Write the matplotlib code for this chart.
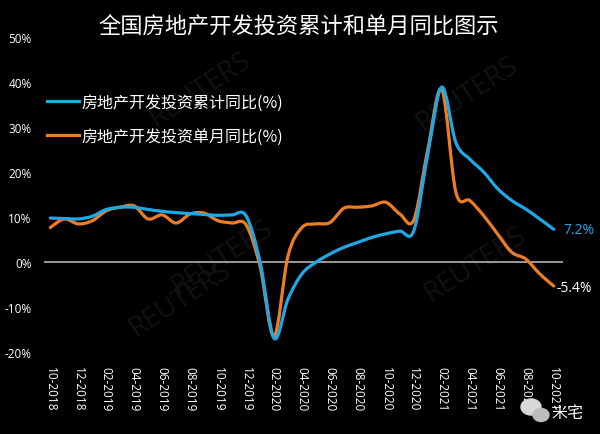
import numpy as np
import matplotlib.pyplot as plt
from matplotlib.path import Path
from matplotlib.patches import PathPatch, Ellipse
from matplotlib.lines import Line2D

# 全国房地产开发投资累计和单月同比, 10-2018 .. 10-2021 (monthly)
months = ["10-2018", "11-2018", "12-2018",
          "01-2019", "02-2019", "03-2019", "04-2019", "05-2019", "06-2019",
          "07-2019", "08-2019", "09-2019", "10-2019", "11-2019", "12-2019",
          "01-2020", "02-2020", "03-2020", "04-2020", "05-2020", "06-2020",
          "07-2020", "08-2020", "09-2020", "10-2020", "11-2020", "12-2020",
          "01-2021", "02-2021", "03-2021", "04-2021", "05-2021", "06-2021",
          "07-2021", "08-2021", "09-2021", "10-2021"]
cumulative = [9.7, 9.6, 9.5, 10.1, 11.6, 12.1, 12.1, 11.6, 11.2, 10.9, 10.7, 10.5,
              10.3, 10.4, 10.2, 0.0, -17.0, -8.3, -2.7, -0.1, 1.7, 3.2, 4.3, 5.4,
              6.2, 6.8, 6.9, 24.0, 38.8, 26.5, 22.8, 19.9, 16.2, 13.6, 11.7, 9.5, 7.2]
single = [7.6, 9.5, 8.4, 9.1, 11.3, 12.1, 12.4, 9.5, 10.4, 8.6, 10.6, 10.8,
          9.1, 8.6, 8.2, -1.0, -16.6, 1.3, 7.6, 8.4, 8.7, 11.9, 12.1, 12.4,
          13.2, 10.6, 9.3, 25.0, 38.3, 15.5, 13.6, 10.2, 6.1, 2.1, 0.6, -2.7, -5.4]
yticks = [-20, -10, 0, 10, 20, 30, 40, 50]

BLUE = "#1ea8e6"
ORANGE = "#ee7d22"
CJK = ["Noto Sans CJK SC", "DejaVu Sans"]
NUM = ["Open Sans", "DejaVu Sans"]


def smooth_path(xs, ys):
    # Excel-style smoothed line: Catmull-Rom segments as cubic Beziers
    p = np.column_stack([xs, ys]).astype(float)
    ext = np.vstack([p[0], p, p[-1]])
    verts = [p[0]]
    codes = [Path.MOVETO]
    for k in range(len(p) - 1):
        p0, p1, p2, p3 = ext[k], ext[k + 1], ext[k + 2], ext[k + 3]
        verts += [p1 + (p2 - p0) / 6, p2 - (p3 - p1) / 6, p2]
        codes += [Path.CURVE4] * 3
    return Path(verts, codes)


fig = plt.figure(figsize=(6, 4.35), dpi=100, facecolor="black")
ax = fig.add_axes([0.0733, 0.1892, 0.8647, 0.7241], facecolor="black")

x = np.arange(len(months))

# faint watermarks, kept underneath the lines
for (wx, wy) in [(200, 90), (467, 95), (222, 258), (475, 265), (180, 300)]:
    ax.text(wx / 600, 1 - wy / 435, "REUTERS", color="#121212", fontsize=20,
            rotation=33, ha="center", va="center", family=NUM, zorder=0.5,
            transform=fig.transFigure)

ax.axhline(0, color="#b4b4b4", lw=1.2, zorder=1)
ax.add_patch(PathPatch(smooth_path(x, cumulative), fill=False, edgecolor=BLUE,
                       lw=2.3, capstyle="round", joinstyle="round", zorder=3))
ax.add_patch(PathPatch(smooth_path(x, single), fill=False, edgecolor=ORANGE,
                       lw=2.3, capstyle="round", joinstyle="round", zorder=2))

ax.set_xlim(-0.45, 36.65)
ax.set_ylim(-20, 50)
for s in ax.spines.values():
    s.set_visible(False)

ax.set_xticks(x[::2])
ax.set_xticklabels(months[::2], rotation=270, ha="center", va="top",
                   color="white", fontsize=8.5, family=NUM)
ax.set_yticks(yticks)
ax.set_yticklabels([f"{v}%" for v in yticks], color="white", fontsize=8.5, family=NUM)
ax.tick_params(axis="both", length=0)
ax.tick_params(axis="x", pad=10)
ax.tick_params(axis="y", pad=9)

# end labels
ax.annotate(f"{cumulative[-1]}%", (x[-1], cumulative[-1]), xytext=(7, 0),
            textcoords="offset points", color=BLUE, fontsize=10, va="center",
            family=NUM, annotation_clip=False)
ax.annotate(f"{single[-1]}%", (x[-1], single[-1]), xytext=(2, -1),
            textcoords="offset points", color="white", fontsize=10, va="center",
            family=NUM, annotation_clip=False)

handles = [Line2D([], [], color=BLUE, lw=2.3), Line2D([], [], color=ORANGE, lw=2.3)]
leg = fig.legend(handles, ["房地产开发投资累计同比(%)", "房地产开发投资单月同比(%)"],
                 loc="upper left", bbox_to_anchor=(47 / 600, 1 - 95 / 435),
                 frameon=False, handlelength=2.0, handletextpad=0.15,
                 labelspacing=1.05, borderpad=0, borderaxespad=0,
                 prop={"family": CJK, "size": 11.5})
for t in leg.get_texts():
    t.set_color("white")

fig.text(0.497, 1 - 27 / 435, "全国房地产开发投资累计和单月同比图示", color="white",
         fontsize=16, ha="center", va="center", family=CJK)

# wechat-style badge
fig.patches.append(Ellipse((531 / 600, 1 - 408 / 435), 20 / 600, 16 / 435,
                           transform=fig.transFigure, color="#d8d8d8", zorder=5))
fig.patches.append(Ellipse((541 / 600, 1 - 416 / 435), 16 / 600, 13 / 435,
                           transform=fig.transFigure, color="#bdbdbd", zorder=5))
fig.text(567 / 600, 1 - 414 / 435, "米宅", color="white", fontsize=11.5,
         ha="center", va="center", family=CJK, zorder=6)

fig.savefig("out.png", dpi=100, facecolor="black")
